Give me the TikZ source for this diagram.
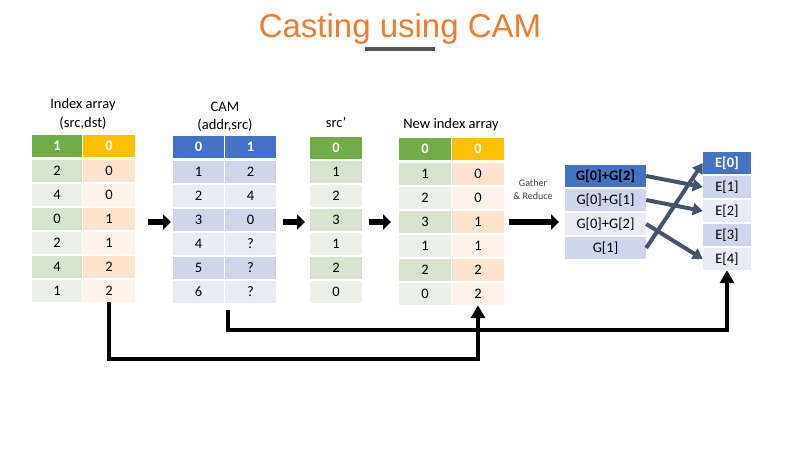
\documentclass[tikz,border=0pt]{standalone}
\usepackage{fontspec}
\setmainfont{Carlito}
\newfontfamily\titlefont{Liberation Sans}
\usetikzlibrary{arrows.meta}

\definecolor{titleorange}{HTML}{ED7D31}
\definecolor{titlebar}{HTML}{53575A}
\definecolor{greenhead}{HTML}{70AD47}
\definecolor{greendark}{HTML}{D5E3CF}
\definecolor{greenlight}{HTML}{EBF1E9}
\definecolor{goldhead}{HTML}{FFC000}
\definecolor{golddark}{HTML}{FCE4D0}
\definecolor{goldlight}{HTML}{FEF3EA}
\definecolor{bluehead}{HTML}{4472C4}
\definecolor{bluedark}{HTML}{CFD5EA}
\definecolor{bluelight}{HTML}{E9EBF5}
\definecolor{slate}{HTML}{44546A}

\tikzset{
  cell/.style={minimum height=22pt, inner sep=0pt, font=\fontsize{14.5}{17}\selectfont},
  head/.style={text=white, font=\fontsize{14.5}{17}\selectfont\bfseries},
  greenband1/.style={fill=greendark}, greenband0/.style={fill=greenlight},
  goldband1/.style={fill=golddark}, goldband0/.style={fill=goldlight},
  blueband1/.style={fill=bluedark}, blueband0/.style={fill=bluelight},
  tabletitle/.style={align=center, font=\fontsize{14.5}{18.5}\selectfont},
  flowarrow/.style={line width=6pt, -{Triangle[length=8pt,width=15pt]}},
  linkarrow/.style={line width=4pt, -{Triangle[length=13pt,width=14pt]}},
  gearrow/.style={draw=slate, line width=4pt, -{Triangle[length=10pt,width=12pt]}}
}

\begin{document}
\begin{tikzpicture}[x=1pt, y=-1pt]
\useasboundingbox (0,0) rectangle (800,450);
\fill[white] (0,0) rectangle (800,450);

% title
\node[anchor=base, text=titleorange, font=\titlefont\fontsize{33}{38}\selectfont] (title) at (400,37) {Casting using CAM};
\draw[line width=4pt, titlebar] (365,49) -- (435,49);

% table titles
\node[tabletitle] (idxtitle) at (83,114) {Index array\\(src,dst)};
\node[tabletitle] (camtitle) at (225,117) {CAM\\(addr,src)};
\node[tabletitle] (srctitle) at (336,122) {src’};
\node[tabletitle] (newtitle) at (451,125) {New index array};
\node[align=center, text=black!75, font=\fontsize{10}{13}\selectfont] (gathertitle) at (533,190) {Gather\\\& Reduce};

% index array
\node[cell, head, fill=greenhead, minimum width=50pt] (idxs0) at (57,146) {1};
\node[cell, head, fill=goldhead, minimum width=52pt] (idxd0) at (109,146) {0};
\foreach \s/\d [count=\i] in {2/0,4/0,0/1,2/1,4/2,1/2} {
  \pgfmathtruncatemacro\b{mod(\i,2)}
  \node[cell, greenband\b, minimum width=50pt] (idxs\i) at (57,147+24*\i) {\s};
  \node[cell, goldband\b, minimum width=52pt] (idxd\i) at (109,147+24*\i) {\d};
}

% CAM
\node[cell, head, fill=bluehead, minimum width=51pt] (cama0) at (198.5,147) {0};
\node[cell, head, fill=bluehead, minimum width=51pt] (cams0) at (250.5,147) {1};
\foreach \a/\s [count=\i] in {1/2,2/4,3/0,4/?,5/?,6/?} {
  \pgfmathtruncatemacro\b{mod(\i,2)}
  \node[cell, blueband\b, minimum width=51pt] (cama\i) at (198.5,148+24*\i) {\a};
  \node[cell, blueband\b, minimum width=51pt] (cams\i) at (250.5,148+24*\i) {\s};
}

% src'
\node[cell, head, fill=greenhead, minimum width=52pt] (src0) at (336,148) {0};
\foreach \s [count=\i] in {1,2,3,1,2,0} {
  \pgfmathtruncatemacro\b{mod(\i,2)}
  \node[cell, greenband\b, minimum width=52pt] (src\i) at (336,148+24*\i) {\s};
}

% new index array
\node[cell, head, fill=greenhead, minimum width=52pt] (news0) at (425,149) {0};
\node[cell, head, fill=goldhead, minimum width=52pt] (newd0) at (478,149) {0};
\foreach \s/\d [count=\i] in {1/0,2/0,3/1,1/1,2/2,0/2} {
  \pgfmathtruncatemacro\b{mod(\i,2)}
  \node[cell, greenband\b, minimum width=52pt] (news\i) at (425,150+24*\i) {\s};
  \node[cell, goldband\b, minimum width=52pt] (newd\i) at (478,150+24*\i) {\d};
}

% gathered values
\node[cell, head, text=black, fill=bluehead, minimum width=81pt] (g0) at (605.5,176) {G[0]+G[2]};
\foreach \t [count=\i] in {G[0]+G[1], G[0]+G[2], G[1]} {
  \pgfmathtruncatemacro\b{mod(\i,2)}
  \node[cell, blueband\b, minimum width=81pt] (g\i) at (605.5,176+24*\i) {\t};
}

% edge values
\node[cell, head, fill=bluehead, minimum width=48pt] (e0) at (727,163) {E[0]};
\foreach \i in {1,...,4} {
  \pgfmathtruncatemacro\b{mod(\i,2)}
  \node[cell, blueband\b, minimum width=48pt] (e\i) at (727,163+24*\i) {E[\i]};
}

% flow arrows
\coordinate (f1a) at (148,222); \coordinate (f1b) at (171,222);
\coordinate (f2a) at (283,222); \coordinate (f2b) at (305,222);
\coordinate (f3a) at (369,222); \coordinate (f3b) at (391,222);
\coordinate (f4a) at (509,222); \coordinate (f4b) at (559,222);
\draw[flowarrow] (f1a) -- (f1b);
\draw[flowarrow] (f2a) -- (f2b);
\draw[flowarrow] (f3a) -- (f3b);
\draw[flowarrow] (f4a) -- (f4b);

% scatter to edges
\draw[gearrow] (g0.east) -- (e1.west);
\draw[gearrow] (g1.east) -- (e2.west);
\draw[gearrow] (g2.east) -- (e4.west);
\draw[gearrow] (g3.east) -- (e0.west);

% links below
\draw[linkarrow] (idxd6.south) -- ++(0,57) -| (newd6.south);
\draw[linkarrow] ([xshift=4pt,yshift=-7pt]cama6.south east) -- ++(0,20) -| (e4.south);
\end{tikzpicture}
\end{document}
